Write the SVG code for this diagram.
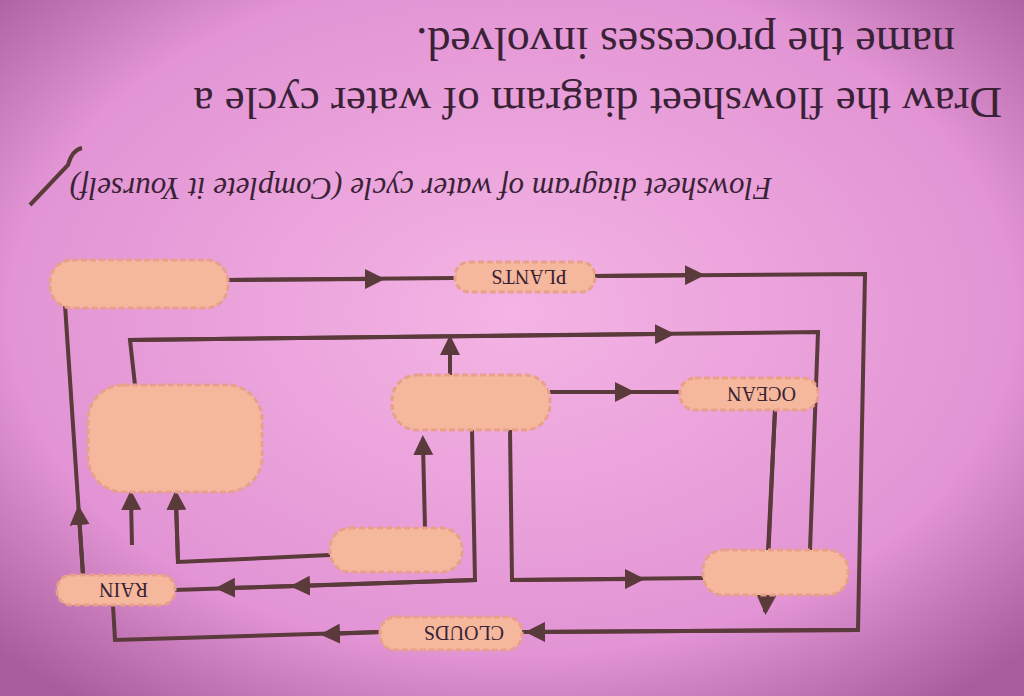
<svg xmlns="http://www.w3.org/2000/svg" width="1024" height="696" viewBox="0 0 1024 696">
<defs>
<radialGradient id="bg" cx="50%" cy="45%" r="70%"><stop offset="0" stop-color="#f4b4e4"/><stop offset="0.7" stop-color="#e294d4"/><stop offset="1" stop-color="#a85c9c"/></radialGradient>
<marker id="ar" viewBox="0 0 10 10" refX="5" refY="5" markerWidth="5" markerHeight="5" orient="auto"><path d="M0,0 L10,5 L0,10 z" fill="#5a3a3a"/></marker>
<style>
.c{fill:#f6b89c;stroke:#e8a08a;stroke-width:3;stroke-dasharray:6 3}
.l{fill:none;stroke:#5a3a3a;stroke-width:4}
.t{font-family:"Liberation Serif",serif;fill:#3a2236}
.lb{font-family:"Liberation Serif",serif;font-size:20px;fill:#3a2236}
</style>
</defs>
<rect width="1024" height="696" fill="url(#bg)"/>
<g class="t" font-size="45">
<text transform="translate(1002,88) rotate(180)">Draw the flowsheet diagram of water cycle a</text>
<text transform="translate(955,28) rotate(180)" font-size="46">name the processes involved.</text>
</g>
<text class="t" font-size="31" font-style="italic" transform="translate(772,178) rotate(180)">Flowsheet diagram of water cycle (Complete it Yourself)</text>
<path class="l" d="M30,205 L68,165 Q72,150 82,148" stroke-width="2"/>
<g id="connectors">
<path class="l" d="M228,280 L455,278 M595,276 L865,274 L858,630 L522,632 M380,632 L115,640 L113,605"/>
<path class="l" marker-end="url(#ar)" d="M228,280 L375,279"/>
<path class="l" marker-end="url(#ar)" d="M595,276 L695,275"/>
<path class="l" marker-end="url(#ar)" d="M858,630 L535,632"/>
<path class="l" marker-end="url(#ar)" d="M380,632 L330,634"/>
<path class="l" d="M83,575 L65,305"/>
<path class="l" marker-end="url(#ar)" d="M83,575 L79,515"/>
<path class="l" d="M135,385 L130,340 L818,332 L810,550"/>
<path class="l" marker-end="url(#ar)" d="M130,340 L665,334"/>
<path class="l" d="M175,590 L475,580 L472,430"/>
<path class="l" marker-end="url(#ar)" d="M475,580 L300,586"/>
<path class="l" marker-end="url(#ar)" d="M300,586 L225,588"/>
<path class="l" d="M510,430 L512,580 L703,578"/>
<path class="l" marker-end="url(#ar)" d="M512,580 L635,579"/>
<path class="l" d="M550,392 L680,392"/>
<path class="l" marker-end="url(#ar)" d="M550,392 L625,392"/>
<path class="l" d="M775,410 L765,612"/>
<path class="l" marker-end="url(#ar)" d="M775,410 L766,605"/>
<path class="l" marker-end="url(#ar)" d="M450,375 L450,345"/>
<path class="l" d="M330,555 L178,562 L176,505"/>
<path class="l" marker-end="url(#ar)" d="M178,562 L176,500"/>
<path class="l" marker-end="url(#ar)" d="M132,545 L131,500"/>
<path class="l" marker-end="url(#ar)" d="M425,528 L423,445"/>
</g>
<g id="n1"><rect class="c" x="50" y="260" width="178" height="48" rx="22"/></g>
<g id="plants"><rect class="c" x="455" y="262" width="140" height="30" rx="14"/><text class="lb" transform="translate(567,270) rotate(180)">PLANTS</text></g>
<g id="n2"><rect class="c" x="88" y="385" width="174" height="107" rx="35"/></g>
<g id="n3"><rect class="c" x="392" y="375" width="158" height="55" rx="25"/></g>
<g id="ocean"><rect class="c" x="680" y="378" width="138" height="32" rx="15"/><text class="lb" transform="translate(796,387) rotate(180)">OCEAN</text></g>
<g id="n4"><rect class="c" x="330" y="528" width="132" height="44" rx="20"/></g>
<g id="n5"><rect class="c" x="703" y="550" width="145" height="45" rx="20"/></g>
<g id="rain"><rect class="c" x="57" y="575" width="118" height="30" rx="14"/><text class="lb" transform="translate(148,583) rotate(180)">RAIN</text></g>
<g id="clouds"><rect class="c" x="380" y="617" width="142" height="33" rx="15"/><text class="lb" transform="translate(504,626) rotate(180)">CLOUDS</text></g>
</svg>
